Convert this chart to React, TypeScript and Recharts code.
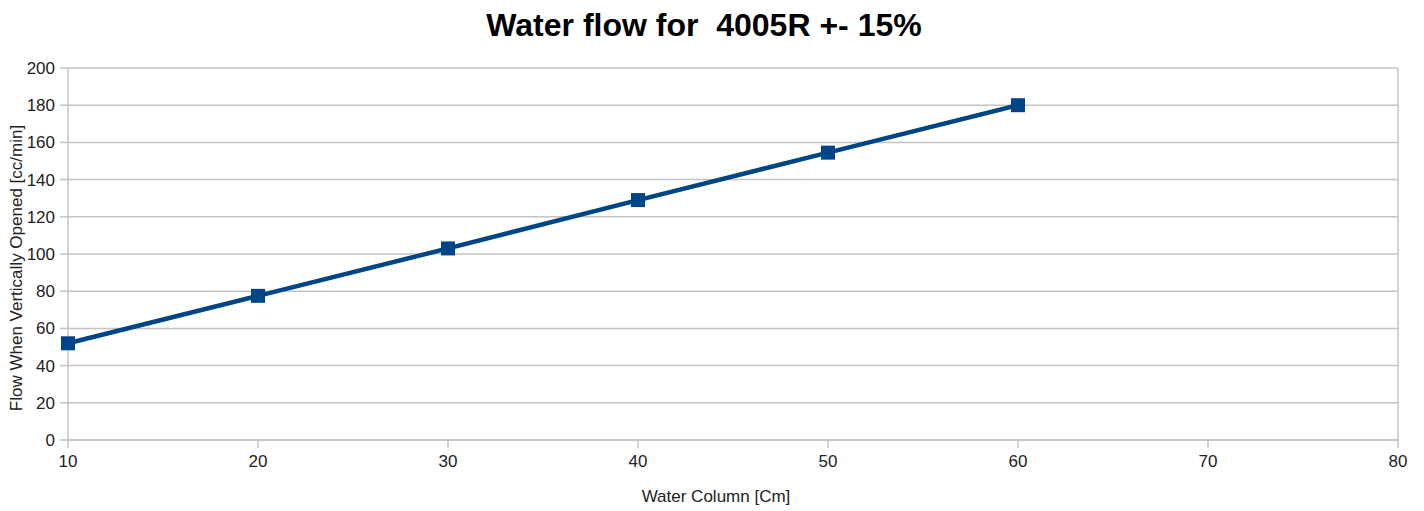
import React from 'react';
import { LineChart, Line, XAxis, YAxis, CartesianGrid, ReferenceLine, Label } from 'recharts';

const waterColumn = [10, 20, 30, 40, 50, 60];
const flow = [52, 77.5, 103, 129, 154.5, 180];
const xTicks = [10, 20, 30, 40, 50, 60, 70, 80];
const yTicks = [0, 20, 40, 60, 80, 100, 120, 140, 160, 180, 200];

const data = waterColumn.map((x, i) => ({ x, flow: flow[i] }));

const FONT = '"Liberation Sans", Arial, sans-serif';
const LINE_COLOR = '#004586';
const GRID_COLOR = '#c4c4c4';
const TEXT_COLOR = '#222';

const SquareDot = (props: any) => {
  const { cx, cy, key } = props;
  if (cx == null || cy == null) return null;
  return <rect key={key} x={cx - 7} y={cy - 7} width={14} height={14} fill={LINE_COLOR} />;
};

const YTitle = (props: any) => {
  const vb = props.viewBox || {};
  const x = (vb.x ?? 0) + 14;
  const y = (vb.y ?? 0) + (vb.height ?? 0) / 2 + 14;
  return (
    <text
      x={x}
      y={y}
      transform={`rotate(-90, ${x}, ${y})`}
      textAnchor="middle"
      fill={TEXT_COLOR}
      fontSize={17}
      fontFamily={FONT}
    >
      Flow When Vertically Opened [cc/min]
    </text>
  );
};

export default function App() {
  return (
    <div style={{ position: 'absolute', left: 0, top: 0, width: 1424, height: 511, background: '#fff', fontFamily: FONT }}>
      <div
        style={{
          position: 'absolute',
          left: 0,
          top: 6,
          width: 1408,
          textAlign: 'center',
          fontWeight: 'bold',
          fontSize: 32,
          lineHeight: '38px',
          color: '#000'
        }}
      >
        Water flow for&nbsp; 4005R +- 15%
      </div>
      <LineChart
        width={1424}
        height={511}
        data={data}
        margin={{ top: 68, right: 26, left: 8, bottom: 7 }}
        style={{ fontFamily: FONT }}
      >
        <CartesianGrid stroke={GRID_COLOR} strokeWidth={1.5} vertical={false} />
        <XAxis
          dataKey="x"
          type="number"
          domain={[10, 80]}
          ticks={xTicks}
          interval={0}
          height={64}
          axisLine={{ stroke: GRID_COLOR, strokeWidth: 1.5 }}
          tickLine={{ stroke: GRID_COLOR, strokeWidth: 1.5 }}
          tickSize={8}
          tickMargin={7}
          tick={{ fill: TEXT_COLOR, fontSize: 17 }}
          label={{ value: 'Water Column [Cm]', position: 'insideBottom', offset: 2, dx: -17, fill: TEXT_COLOR, fontSize: 17 }}
        />
        <YAxis
          type="number"
          domain={[0, 200]}
          ticks={yTicks}
          interval={0}
          width={60}
          axisLine={{ stroke: GRID_COLOR, strokeWidth: 1.5 }}
          tickLine={{ stroke: GRID_COLOR, strokeWidth: 1.5 }}
          tickSize={8}
          tickMargin={5}
          tick={{ fill: TEXT_COLOR, fontSize: 17 }}
        >
          <Label content={<YTitle />} />
        </YAxis>
        <ReferenceLine x={80} stroke={GRID_COLOR} strokeWidth={1.5} />
        <Line
          dataKey="flow"
          stroke={LINE_COLOR}
          strokeWidth={4.5}
          dot={SquareDot}
          activeDot={false}
          isAnimationActive={false}
        />
      </LineChart>
    </div>
  );
}
